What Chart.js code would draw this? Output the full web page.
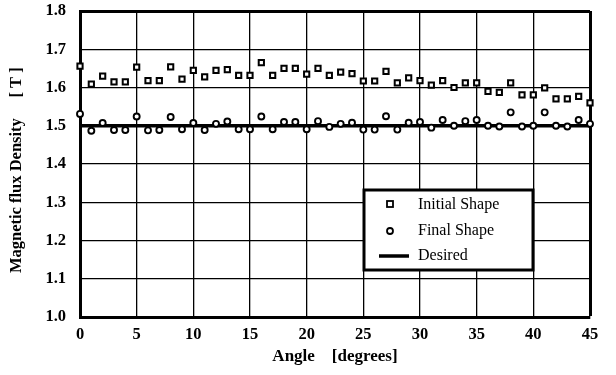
<!DOCTYPE html>
<html>
<head>
<meta charset="utf-8">
<script src="https://cdn.jsdelivr.net/npm/chart.js@4.4.0/dist/chart.umd.min.js"></script>
<style>
  html, body { margin: 0; padding: 0; background: #fff; }
  #wrap { width: 616px; height: 375px; position: relative; }
</style>
</head>
<body>
<div id="wrap"><canvas id="graf"></canvas></div>
<script>
// ===== datos =====
const angulos = [0, 1, 2, 3, 4, 5, 6, 7, 8, 9, 10, 11, 12, 13, 14, 15, 16, 17, 18, 19, 20, 21, 22,
    23, 24, 25, 26, 27, 28, 29, 30, 31, 32, 33, 34, 35, 36, 37, 38, 39, 40, 41, 42, 43, 44, 45];
const formaInicial = [1.656, 1.609, 1.630, 1.615, 1.615, 1.653, 1.618, 1.618, 1.654, 1.622, 1.645,
    1.628, 1.645, 1.647, 1.632, 1.632, 1.665, 1.632, 1.650, 1.650, 1.635, 1.650, 1.632, 1.640,
    1.636, 1.617, 1.617, 1.642, 1.612, 1.625, 1.618, 1.606, 1.618, 1.600, 1.612, 1.612, 1.590,
    1.587, 1.612, 1.581, 1.581, 1.599, 1.570, 1.570, 1.577, 1.560];
const formaFinal = [1.531, 1.487, 1.507, 1.489, 1.489, 1.524, 1.488, 1.489, 1.523, 1.491, 1.507,
    1.489, 1.505, 1.511, 1.491, 1.491, 1.524, 1.491, 1.510, 1.510, 1.491, 1.512, 1.497, 1.505,
    1.508, 1.490, 1.490, 1.525, 1.490, 1.508, 1.510, 1.495, 1.515, 1.500, 1.512, 1.515, 1.500,
    1.498, 1.535, 1.498, 1.500, 1.535, 1.500, 1.498, 1.515, 1.505];
const deseadoX = [0, 45];
const deseadoY = [1.5, 1.5];
const etiquetas = ['Initial Shape', 'Final Shape', 'Desired'];

const serif = "'Liberation Serif', 'DejaVu Serif', serif";

// leyenda dibujada dentro del area del grafico
const leyenda = {
    id: 'leyenda',
    afterDraw(chart) {
        const ctx = chart.ctx;
        const x = 364, y = 190, w = 169, h = 80;
        ctx.save();
        ctx.fillStyle = '#fff';
        ctx.fillRect(x, y, w, h);
        ctx.lineWidth = 3;
        ctx.strokeStyle = '#000';
        ctx.strokeRect(x, y, w, h);
        ctx.font = '16px ' + serif;
        ctx.fillStyle = '#000';
        ctx.textBaseline = 'middle';
        // cuadrado
        ctx.lineWidth = 1.8;
        ctx.strokeRect(387, 201, 6, 6);
        ctx.fillText(etiquetas[0], 418, 205);
        // circulo
        ctx.beginPath();
        ctx.arc(390, 231, 3, 0, Math.PI * 2);
        ctx.stroke();
        ctx.fillText(etiquetas[1], 418, 231);
        // linea
        ctx.lineWidth = 3.5;
        ctx.beginPath();
        ctx.moveTo(379, 256);
        ctx.lineTo(409, 256);
        ctx.stroke();
        ctx.fillText(etiquetas[2], 418, 256);
        ctx.restore();
    }
};

const $ctx = document.getElementById('graf');

const chart = new Chart($ctx, {
    type: 'scatter',
    data: {
        datasets: [
            {
                label: etiquetas[0],
                data: angulos.map((a, i) => ({ x: a, y: formaInicial[i] })),
                pointStyle: 'rect',
                pointRadius: 3.7,
                pointBorderWidth: 2,
                borderColor: '#000',
                backgroundColor: '#fff',
                clip: false,
            },
            {
                label: etiquetas[1],
                data: angulos.map((a, i) => ({ x: a, y: formaFinal[i] })),
                pointStyle: 'circle',
                pointRadius: 3,
                pointBorderWidth: 1.9,
                borderColor: '#000',
                backgroundColor: '#fff',
                clip: false,
            },
            {
                label: etiquetas[2],
                type: 'line',
                data: deseadoX.map((a, i) => ({ x: a, y: deseadoY[i] })),
                borderColor: '#000',
                borderWidth: 3.5,
                pointRadius: 0,
                order: 5,
            }
        ]
    },
    options: {
        responsive: true,
        maintainAspectRatio: false,
        animation: false,
        layout: { autoPadding: false, padding: { top: 11, right: 26, left: 0, bottom: 0 } },
        plugins: {
            legend: { display: false },
            tooltip: { enabled: false },
        },
        scales: {
            x: {
                type: 'linear',
                min: 0,
                max: 45,
                afterFit(scale) { scale.height = 58; },
                ticks: {
                    stepSize: 5,
                    padding: 8,
                    color: '#000',
                    font: { family: serif, size: 16.5, weight: 'bold' },
                },
                grid: {
                    color: '#000',
                    lineWidth: c => (c.index === 9 ? 3 : 1.3),
                    drawTicks: false,
                },
                border: { color: '#000', width: 3 },
                title: {
                    display: true,
                    text: 'Angle    [degrees]',
                    color: '#000',
                    padding: { top: 0, bottom: 8 },
                    font: { family: serif, size: 17, weight: 'bold' },
                }
            },
            y: {
                min: 1.0,
                max: 1.8,
                afterFit(scale) {
                    scale.width = 80;
                    scale.paddingTop = 0;
                    scale.paddingBottom = 0;
                },
                ticks: {
                    stepSize: 0.1,
                    padding: 14,
                    color: '#000',
                    callback: v => v.toFixed(1),
                    font: { family: serif, size: 16.5, weight: 'bold' },
                },
                grid: {
                    color: '#000',
                    lineWidth: c => (c.index === 8 ? 3 : 1.3),
                    drawTicks: false,
                },
                border: { color: '#000', width: 3 },
                title: {
                    display: true,
                    text: 'Magnetic flux Density     [ T ]   ',
                    color: '#000',
                    padding: { top: 7, bottom: 0 },
                    font: { family: serif, size: 16.5, weight: 'bold' },
                }
            }
        }
    },
    plugins: [leyenda]
});
</script>
</body>
</html>
